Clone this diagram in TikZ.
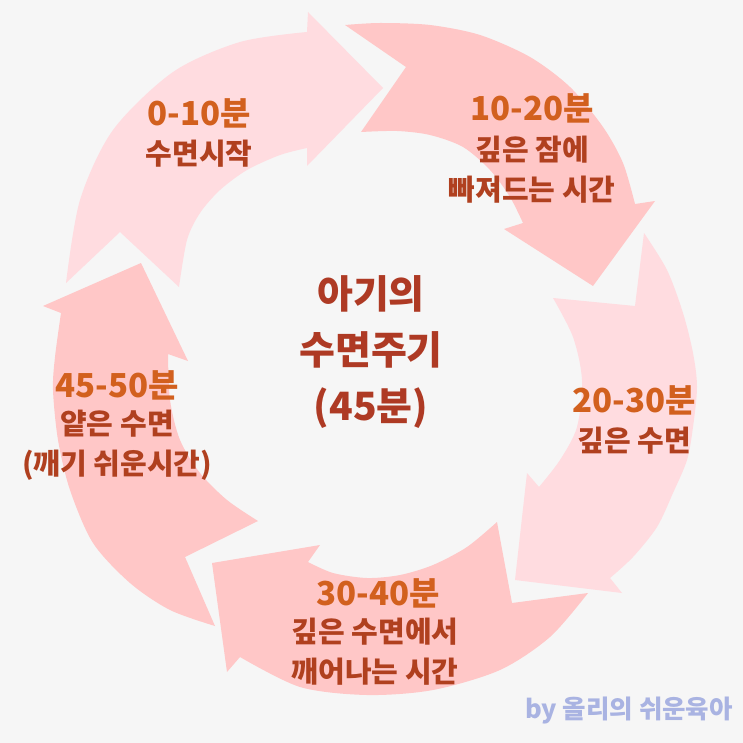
\documentclass[tikz,border=0pt]{standalone}
\usepackage{fontspec}
\newfontfamily\krfont{Noto Sans CJK KR}
\definecolor{bg}{HTML}{F6F6F6}
\definecolor{pinkL}{HTML}{FFDCE0}
\definecolor{pinkM}{HTML}{FFC7C7}
\definecolor{tOrange}{HTML}{D2601E}
\definecolor{tBrown}{HTML}{B0401F}
\definecolor{tCenter}{HTML}{AE3A24}
\definecolor{tMark}{HTML}{A9B3E2}
\begin{document}
\begin{tikzpicture}[x=1pt,y=-1pt,
  ttl/.style={font=\krfont\bfseries\fontsize{33}{38}\selectfont, text=tOrange, inner sep=0pt},
  subl/.style={font=\krfont\bfseries\fontsize{29}{40}\selectfont, text=tBrown, align=center, inner sep=0pt},
  ctr/.style={font=\krfont\bfseries\fontsize{39}{56}\selectfont, text=tCenter, align=center, inner sep=0pt},
  wmark/.style={font=\krfont\bfseries\fontsize{25.5}{30}\selectfont, text=tMark, inner sep=0pt}]
\fill[bg] (0,0) rectangle (743,743);
\useasboundingbox (0,0) rectangle (743,743);
% arrow 1 : 0-10
\fill[pinkL] (66,283) -- (120,232) -- plot[smooth] coordinates {(179,287) (187,240) (200,213) (220,190) (247,170) (280,155) (307,148)}
  -- (307,166) -- (383,88) -- (308,12) -- (307,32)
  -- plot[smooth] coordinates {(307,32) (240,42) (173,72) (113,130) (80,200) (66,283)} -- cycle;
% arrow 2 : 10-20
\fill[pinkM] (345,25) -- (406,67) -- plot[smooth] coordinates {(361,132) (397,131) (430,135) (463,147) (490,170) (510,197) (523,223)}
  -- (504,229) -- (593,286) -- (655,201) -- (635,204)
  -- plot[smooth] coordinates {(635,204) (623,163) (603,127) (570,87) (530,57) (480,35) (430,25) (380,23) (345,25)} -- cycle;
% arrow 3 : 20-30
\fill[pinkL] (644,233) -- (635,306) -- plot[smooth] coordinates {(553,298) (573,337) (582,380) (577,427) (560,460) (539,487)}
  -- (527,473) -- (515,580) -- (622,593) -- (610,578)
  -- plot[smooth] coordinates {(610,578) (633,557) (657,527) (673,493) (687,460) (693,427) (697,387) (693,353) (683,313) (667,270) (644,233)} -- cycle;
% arrow 4 : 30-40
\fill[pinkM] (588,593) -- (512,603) -- plot[smooth] coordinates {(497,522) (467,547) (433,565) (400,575) (367,578) (333,573) (308,562)}
  -- (320,545) -- (212,563) -- (227,672) -- (240,657)
  -- plot[smooth] coordinates {(240,657) (300,687) (367,695) (433,690) (500,670) (550,637) (588,593)} -- cycle;
% arrow 5 : 45-50
\fill[pinkM] (215,626) -- (185,557) -- plot[smooth] coordinates {(258,521) (227,500) (200,473) (180,440) (170,400) (168,354)}
  -- (188,361) -- (141,263) -- (43,306) -- (61,313)
  -- plot[smooth] coordinates {(61,313) (55,357) (53,390) (58,440) (70,490) (93,543) (130,583) (170,610) (215,626)} -- cycle;
% labels
\node[ttl] (t1) at (199,113) {0-10분};
\node[subl] (s1) at (199,154) {수면시작};
\node[ttl] (t2) at (532,108) {10-20분};
\node[subl] (s2) at (532,170) {깊은 잠에\\빠져드는 시간};
\node[ttl] (t3) at (634,400) {20-30분};
\node[subl] (s3) at (634,441) {깊은 수면};
\node[ttl] (t4) at (378,593) {30-40분};
\node[subl] (s4) at (375,652) {깊은 수면에서\\깨어나는 시간};
\node[ttl] (t5) at (117,385) {45-50분};
\node[subl] (s5) at (117,445) {얕은 수면\\(깨기 쉬운시간)};
\node[ctr] (c) at (371,352) {아기의\\수면주기\\(45분)};
\node[wmark] (m) at (629,711) {by 올리의 쉬운육아};
\end{tikzpicture}
\end{document}
